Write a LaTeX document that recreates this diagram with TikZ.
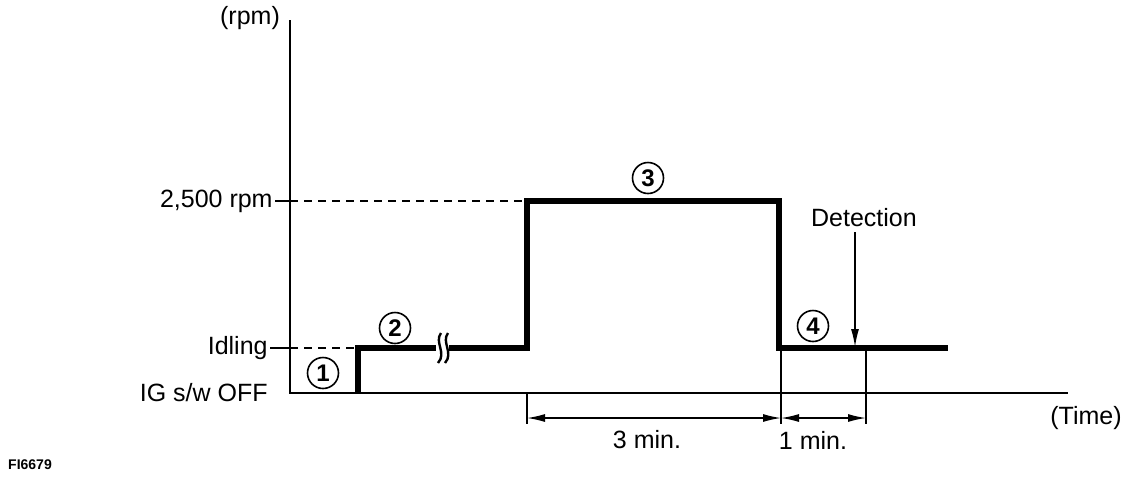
\documentclass[tikz,border=0pt]{standalone}
\usepackage{fontspec}
\setmainfont{Liberation Sans}
\usetikzlibrary{arrows.meta,positioning}

\begin{document}
\begin{tikzpicture}[x=0.5pt,y=-0.5pt,>={Latex[length=9pt,width=4pt]},
  axis/.style={line width=1pt},
  guide/.style={line width=1pt,dash pattern=on 4pt off 3pt},
  speed/.style={line width=2.6pt,line join=miter},
  dim/.style={line width=0.7pt},
  lbl/.style={font=\fontsize{12.5}{14}\selectfont,inner sep=0pt},
  circnum/.style={circle,draw,line width=0.8pt,minimum size=15.5pt,inner sep=0pt,font=\fontsize{12}{13}\selectfont\bfseries}]
  \useasboundingbox (0,0) rectangle (1136,478);
  \coordinate (O) at (290,393);
  \coordinate (ytop) at (290,20);
  \coordinate (xend) at (1068,393);
  \draw[axis] (ytop) -- (O) -- (xend);
  \node[lbl] (rpm) at (250,18) {(rpm)};
  \node[lbl] (time) at (1086,418) {(Time)};
  \node[lbl,anchor=east] (hi) at (273,201) {2,500 rpm};
  \node[lbl,anchor=east] (idl) at (268,348) {Idling};
  \node[lbl,anchor=east] (off) at (268,393) {IG\ s/w\ OFF};
  \coordinate (t1) at (290,201);
  \coordinate (t2) at (290,348);
  \coordinate (s0) at (358,393);
  \coordinate (s1) at (358,348);
  \coordinate (b1) at (436,348);
  \coordinate (b2) at (449,348);
  \coordinate (s2) at (527,348);
  \coordinate (s3) at (527,201);
  \coordinate (s4) at (779,201);
  \coordinate (s5) at (779,348);
  \coordinate (s6) at (948,348);
  \draw[axis] ([xshift=1pt]hi.east) -- (t1);
  \draw[axis] ([xshift=1pt]idl.east) -- (t2);
  \draw[guide] (t1) -- (s3);
  \draw[guide] (t2) -- (s1);
  \draw[speed] (s0) -- (s1) -- (b1);
  \draw[speed] (b2) -- (s2) -- (s3) -- (s4) -- (s5) -- (s6);
  \draw[line width=1.2pt] (441,333) .. controls (434,342) and (447,353) .. (438,363);
  \draw[line width=1.2pt] (448,333) .. controls (441,342) and (454,353) .. (445,363);
  \coordinate (d1) at (527,418);
  \coordinate (d2) at (781,418);
  \coordinate (d3) at (866,418);
  \draw[dim] (O -| d1) -- ([yshift=-3pt]d1);
  \draw[dim] (781,350) -- ([yshift=-3pt]d2);
  \draw[dim] (866,350) -- ([yshift=-3pt]d3);
  \draw[dim,<->] (d1) -- (d2);
  \draw[dim,<->] (d2) -- (d3);
  \node[lbl] (m3) at (647,440) {3 min.};
  \node[lbl] (m1) at (813,440) {1 min.};
  \node[lbl] (det) at (864,218) {Detection};
  \coordinate (dtip) at (855,347);
  \draw[dim,->] (855,232) -- (dtip);
  \node[circnum] (c1) at (323,373) {1};
  \node[circnum] (c2) at (395,328) {2};
  \node[circnum] (c3) at (648,178) {3};
  \node[circnum] (c4) at (813,326) {4};
  \node[font=\fontsize{7}{8}\selectfont\bfseries,inner sep=0pt] (fig) at (30,465) {FI6679};
\end{tikzpicture}
\end{document}
